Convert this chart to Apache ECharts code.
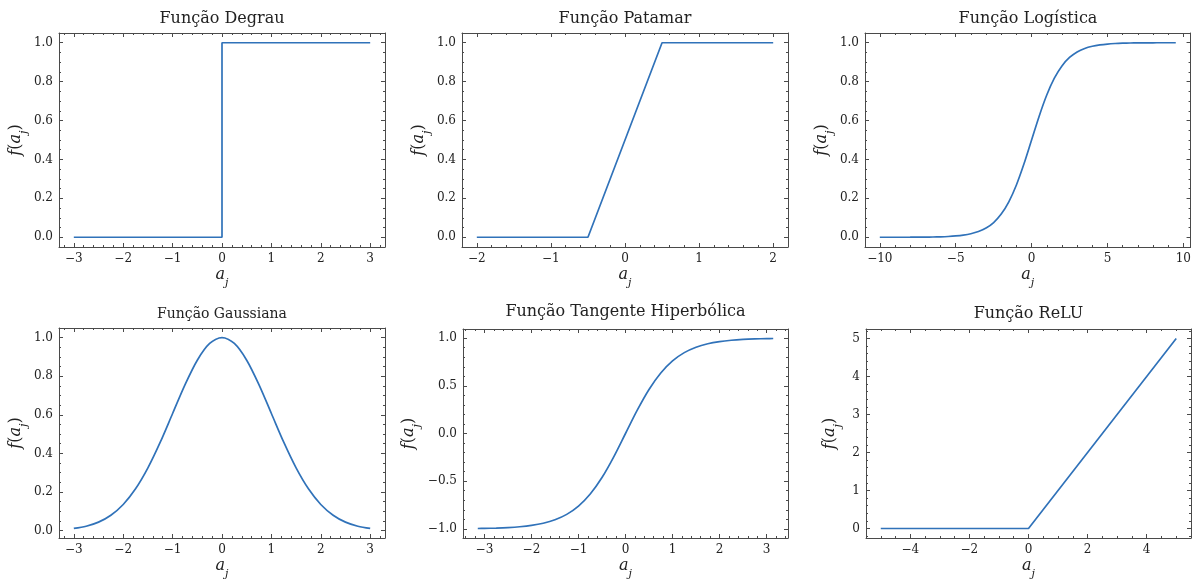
<!DOCTYPE html>
<html>
<head>
<meta charset="utf-8">
<script src="https://cdn.jsdelivr.net/npm/echarts@6/dist/echarts.min.js"></script>
<style>
html,body{margin:0;padding:0;background:#fff;}
#c{width:1194px;height:581px;}
</style>
</head>
<body>
<div id="c"></div>
<script>
// ---------- data ----------
const titles = ['Função Degrau', 'Função Patamar', 'Função Logística', 'Função Gaussiana', 'Função Tangente Hiperbólica', 'Função ReLU'];

const degrauX = [-3, 0, 0, 3];
const degrauY = [0, 0, 1, 1];

const patamarX = [-2, -0.5, 0.5, 2];
const patamarY = [0, 0, 1, 1];

const logisticaX = [-10, -9.5, -9, -8.5, -8, -7.5, -7, -6.5, -6, -5.5, -5, -4.5, -4, -3.5, -3, -2.5, -2, -1.5, -1, -0.5, 0, 0.5, 1, 1.5, 2, 2.5, 3, 3.5, 4, 4.5, 5, 5.5, 6, 6.5, 7, 7.5, 8, 8.5, 9, 9.5];
const logisticaY = [0.0000, 0.0001, 0.0001, 0.0002, 0.0003, 0.0006, 0.0009, 0.0015, 0.0025, 0.0041, 0.0067, 0.0110, 0.0180, 0.0293, 0.0474, 0.0759, 0.1192, 0.1824, 0.2689, 0.3775, 0.5000, 0.6225, 0.7311, 0.8176, 0.8808, 0.9241, 0.9526, 0.9707, 0.9820, 0.9890, 0.9933, 0.9959, 0.9975, 0.9985, 0.9991, 0.9994, 0.9997, 0.9998, 0.9999, 0.9999];

const gaussX = [-3, -2.75, -2.5, -2.25, -2, -1.75, -1.5, -1.25, -1, -0.75, -0.5, -0.25, 0, 0.25, 0.5, 0.75, 1, 1.25, 1.5, 1.75, 2, 2.25, 2.5, 2.75, 3];
const gaussY = [0.0111, 0.0228, 0.0439, 0.0796, 0.1353, 0.2163, 0.3247, 0.4578, 0.6065, 0.7548, 0.8825, 0.9692, 1.0000, 0.9692, 0.8825, 0.7548, 0.6065, 0.4578, 0.3247, 0.2163, 0.1353, 0.0796, 0.0439, 0.0228, 0.0111];

const tanhX = [-3.1416, -3, -2.75, -2.5, -2.25, -2, -1.75, -1.5, -1.25, -1, -0.75, -0.5, -0.25, 0, 0.25, 0.5, 0.75, 1, 1.25, 1.5, 1.75, 2, 2.25, 2.5, 2.75, 3, 3.1416];
const tanhY = [-0.9963, -0.9951, -0.9918, -0.9866, -0.9780, -0.9640, -0.9414, -0.9051, -0.8483, -0.7616, -0.6351, -0.4621, -0.2449, 0, 0.2449, 0.4621, 0.6351, 0.7616, 0.8483, 0.9051, 0.9414, 0.9640, 0.9780, 0.9866, 0.9918, 0.9951, 0.9963];

const reluX = [-5, 0, 5];
const reluY = [0, 0, 5];

// tick labels
const degrauXTicks = [-3, -2, -1, 0, 1, 2, 3];
const unitYTicks = [0.0, 0.2, 0.4, 0.6, 0.8, 1.0];
const patamarXTicks = [-2, -1, 0, 1, 2];
const logisticaXTicks = [-10, -5, 0, 5, 10];
const gaussXTicks = [-3, -2, -1, 0, 1, 2, 3];
const tanhXTicks = [-3, -2, -1, 0, 1, 2, 3];
const tanhYTicks = [-1.0, -0.5, 0.0, 0.5, 1.0];
const reluXTicks = [-4, -2, 0, 2, 4];
const reluYTicks = [0, 1, 2, 3, 4, 5];

// ---------- layout / style ----------
const LINE = '#3072b9';
const FRAME = '#4a4a4a';
const TXT = '#222';
const SERIF = '"DejaVu Serif", serif';

const panels = [
  {x: degrauX, y: degrauY, xr: [-3.3, 3.3], yr: [-0.05, 1.05], xt: degrauXTicks, yt: unitYTicks, xm: 0.2, ym: 0.05, yd: 1, smooth: false,
   grid: {left: 59, top: 33, width: 326, height: 214}, nameGap: 34, tsize: 16, ttop: 11},
  {x: patamarX, y: patamarY, xr: [-2.2, 2.2], yr: [-0.05, 1.05], xt: patamarXTicks, yt: unitYTicks, xm: 0.2, ym: 0.05, yd: 1, smooth: false,
   grid: {left: 462, top: 33, width: 326, height: 214}, nameGap: 34, tsize: 16, ttop: 11},
  {x: logisticaX, y: logisticaY, xr: [-10.975, 10.475], yr: [-0.05, 1.05], xt: logisticaXTicks, yt: unitYTicks, xm: 1, ym: 0.05, yd: 1, smooth: true,
   grid: {left: 865, top: 33, width: 326, height: 214}, nameGap: 34, tsize: 16, ttop: 11},
  {x: gaussX, y: gaussY, xr: [-3.3, 3.3], yr: [-0.0383, 1.0494], xt: gaussXTicks, yt: unitYTicks, xm: 0.2, ym: 0.05, yd: 1, smooth: true,
   grid: {left: 59, top: 328, width: 326, height: 213}, nameGap: 34, tsize: 14, ttop: 307},
  {x: tanhX, y: tanhY, xr: [-3.4558, 3.4558], yr: [-1.0959, 1.0959], xt: tanhXTicks, yt: tanhYTicks, xm: 0.2, ym: 0.1, yd: 1, smooth: true,
   grid: {left: 463, top: 329, width: 325, height: 212}, nameGap: 46, tsize: 16, ttop: 304},
  {x: reluX, y: reluY, xr: [-5.5, 5.5], yr: [-0.25, 5.25], xt: reluXTicks, yt: reluYTicks, xm: 0.5, ym: 0.2, yd: 0, smooth: false,
   grid: {left: 866, top: 329, width: 325, height: 212}, nameGap: 28, tsize: 16, ttop: 306}
];

function minorValues(r, step, majors) {
  const out = [];
  const k0 = Math.ceil(r[0] / step - 1e-9), k1 = Math.floor(r[1] / step + 1e-9);
  for (let k = k0; k <= k1; k++) {
    const v = Math.round(k * step * 1e6) / 1e6;
    if (!majors.some(m => Math.abs(m - v) < 1e-9)) out.push(v);
  }
  return out;
}
function fmt(v, d) {
  return (d ? Number(v).toFixed(d) : String(v)).replace('-', '\u2212');
}

const rich = {
  i: {fontFamily: SERIF, fontStyle: 'italic', fontSize: 16, color: TXT},
  u: {fontFamily: SERIF, fontSize: 16, color: TXT},
  s: {fontFamily: SERIF, fontStyle: 'italic', fontSize: 11, color: TXT, verticalAlign: 'bottom', padding: [0, 0, -6, 0]}
};

const grids = [], xAxes = [], yAxes = [], series = [], titleArr = [];
panels.forEach((p, gi) => {
  grids.push(Object.assign({containLabel: false}, p.grid));
  const xMin = minorValues(p.xr, p.xm, p.xt);
  const yMin = minorValues(p.yr, p.ym, p.yt);
  const base = {type: 'value', gridIndex: gi, splitLine: {show: false}, scale: true};
  ['bottom', 'top'].forEach(pos => {
    xAxes.push(Object.assign({}, base, {
      position: pos, min: p.xr[0], max: p.xr[1],
      axisLine: {show: true, onZero: false, lineStyle: {color: FRAME, width: 1}},
      axisTick: {show: true, inside: true, length: 4, customValues: p.xt, lineStyle: {color: FRAME, width: 1}},
      axisLabel: pos === 'bottom' ? {show: true, customValues: p.xt, margin: 6, fontFamily: SERIF, fontSize: 12, color: TXT, formatter: v => fmt(v, 0)} : {show: false},
      name: pos === 'bottom' ? '{i|a}{s|j}' : '',
      nameLocation: 'middle', nameGap: 20,
      nameTextStyle: {rich: rich}
    }));
    xAxes.push(Object.assign({}, base, {
      position: pos, min: p.xr[0], max: p.xr[1],
      axisLine: {show: false, onZero: false},
      axisTick: {show: true, inside: true, length: 2, customValues: xMin, lineStyle: {color: FRAME, width: 1}},
      axisLabel: {show: false}
    }));
  });
  ['left', 'right'].forEach(pos => {
    yAxes.push(Object.assign({}, base, {
      position: pos, min: p.yr[0], max: p.yr[1],
      axisLine: {show: true, onZero: false, lineStyle: {color: FRAME, width: 1}},
      axisTick: {show: true, inside: true, length: 4, customValues: p.yt, lineStyle: {color: FRAME, width: 1}},
      axisLabel: pos === 'left' ? {show: true, customValues: p.yt, margin: 6, fontFamily: SERIF, fontSize: 12, color: TXT, formatter: v => fmt(v, p.yd)} : {show: false},
      name: pos === 'left' ? '{i|f}{u|(}{i|a}{s|j}{u|)}' : '',
      nameLocation: 'middle', nameGap: p.nameGap, nameRotate: 90,
      nameTextStyle: {rich: rich}
    }));
    yAxes.push(Object.assign({}, base, {
      position: pos, min: p.yr[0], max: p.yr[1],
      axisLine: {show: false, onZero: false},
      axisTick: {show: true, inside: true, length: 2, customValues: yMin, lineStyle: {color: FRAME, width: 1}},
      axisLabel: {show: false}
    }));
  });
  series.push({
    type: 'line', xAxisIndex: gi * 4, yAxisIndex: gi * 4,
    data: p.x.map((v, i) => [v, p.y[i]]),
    showSymbol: false, symbol: 'none',
    smooth: p.smooth ? 0.3 : false,
    lineStyle: {color: LINE, width: 1.7}, animation: false, clip: false
  });
  titleArr.push({
    text: titles[gi], left: p.grid.left + p.grid.width / 2, top: p.ttop, textAlign: 'center', padding: 0,
    textStyle: {fontFamily: SERIF, fontWeight: 'normal', fontSize: p.tsize, color: TXT}
  });
});

const chart = echarts.init(document.getElementById('c'), null, {renderer: 'canvas'});
chart.setOption({
  backgroundColor: '#fff',
  animation: false,
  title: titleArr,
  grid: grids,
  xAxis: xAxes,
  yAxis: yAxes,
  series: series
});
</script>
</body>
</html>
